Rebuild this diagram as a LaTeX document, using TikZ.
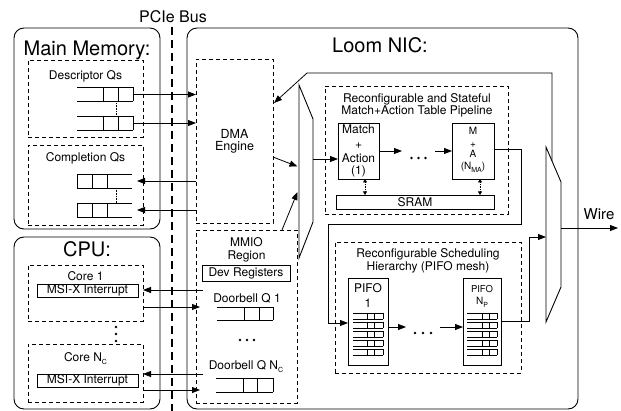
\documentclass[tikz,border=0pt]{standalone}
\usepackage{fontspec}
\setmainfont{TeX Gyre Heros}
\usetikzlibrary{arrows.meta,calc}
\newcommand{\fsz}[1]{\fontsize{#1}{#1}\selectfont}
\newcommand{\mysub}[1]{\raisebox{-3pt}{\fontsize{7}{7}\selectfont #1}}
\newcommand{\qdraw}[7]{\draw[ln] (#1,#3) -- (#2,#3) (#1,#4) -- (#2,#4) (#5,#3) -- (#5,#4) (#6,#3) -- (#6,#4) (#7,#3) -- (#7,#4);}
\begin{document}
\begin{tikzpicture}[x=1pt,y=-1pt,
  every node/.style={inner sep=0pt, outer sep=0pt, font=\fsz{12}},
  sbox/.style={draw, line width=0.8pt},
  dbox/.style={draw, line width=0.8pt, dash pattern=on 4pt off 3pt},
  rbox/.style={draw, line width=0.9pt, rounded corners=10pt},
  lab/.style={anchor=base},
  ln/.style={line width=0.8pt},
  thinln/.style={line width=0.6pt},
  arr/.style={line width=0.8pt, -{Triangle[length=8pt,width=6pt]}},
  darr/.style={line width=0.7pt, densely dotted, {Triangle[length=3.5pt,width=4pt]}-{Triangle[length=3.5pt,width=4pt]}},
  muxln/.style={line width=0.9pt},
]
\useasboundingbox (0,0) rectangle (621,411);

% PCIe bus
\node[lab, font=\fsz{16}] (pcielab) at (173,23) {PCIe Bus};
\coordinate (pcietop) at (172,27);
\coordinate (pciebot) at (172,411);
\draw[line width=2pt, dash pattern=on 8pt off 5pt] (pcietop) -- (pciebot);

% Main memory
\node[rbox, minimum width=146pt, minimum height=201pt] (mainmem) at (87,128.5) {};
\node[lab, font=\fsz{20}] (mmlab) at (87,56) {Main Memory:};
\node[dbox, minimum width=115pt, minimum height=77pt] (descq) at (85.5,98.5) {};
\node[lab] (desclab) at (85.5,80) {Descriptor Qs};
\qdraw{77}{133}{87.5}{101.5}{103}{118}{133}
\qdraw{77}{133}{116}{130}{103}{118}{133}
\draw[thinln, densely dotted] (116,101.5) -- (116,116);
\coordinate (dq1) at (133,94.5);
\coordinate (dq2) at (133,123);

\node[dbox, minimum width=115pt, minimum height=80pt] (complq) at (85.5,185) {};
\node[lab] (compllab) at (85.5,162) {Completion Qs};
\qdraw{77}{132}{174}{188}{77}{92}{107}
\qdraw{77}{132}{203}{217}{77}{92}{107}
\draw[thinln, densely dotted] (116,188) -- (116,203);
\coordinate (cq1) at (137,181);
\coordinate (cq2) at (137,210);

% CPU
\node[rbox, minimum width=146pt, minimum height=172pt] (cpu) at (87,323) {};
\node[lab, font=\fsz{20}] (cpulab) at (87,257) {CPU:};
\node[dbox, minimum width=115pt, minimum height=56pt] (core1) at (85.5,293) {};
\node[lab] (core1lab) at (85.5,281) {Core 1};
\node[sbox, minimum width=101pt, minimum height=13pt] (msi1) at (87.5,290.5) {MSI-X Interrupt};
\fill (116,327) circle (1.3pt) (116,334) circle (1.3pt) (116,341) circle (1.3pt);
\node[dbox, minimum width=115pt, minimum height=58pt] (coreN) at (85.5,373) {};
\node[lab] (coreNlab) at (85.5,362) {Core N\mysub{C}};
\node[sbox, minimum width=101pt, minimum height=13pt] (msiN) at (87.5,380.5) {MSI-X Interrupt};

% NIC
\node[rbox, minimum width=391pt, minimum height=381pt] (nic) at (382.5,218.5) {};
\node[lab, font=\fsz{20}] (niclab) at (380,53) {Loom NIC:};

\node[dbox, minimum width=77pt, minimum height=164pt] (dma) at (234.5,141) {};
\node[lab, font=\fsz{12.5}] (dmalab1) at (234.5,138.5) {DMA};
\node[lab, font=\fsz{12.5}] (dmalab2) at (234.5,151) {Engine};

\node[dbox, minimum width=101pt, minimum height=173pt] (mmio) at (246.5,316.5) {};
\node[lab] (mmiolab1) at (246.5,247) {MMIO};
\node[lab] (mmiolab2) at (246.5,260) {Region};
\node[sbox, minimum width=88pt, minimum height=16pt] (devreg) at (246,273) {Dev Registers};
\node[lab] (db1lab) at (247,303) {Doorbell Q 1};
\qdraw{217}{273}{307}{320}{244}{259}{273}
\fill (240,340) circle (1.3pt) (247,340) circle (1.3pt) (254,340) circle (1.3pt);
\node[lab] (dbNlab) at (246,370) {Doorbell Q N\mysub{C}};
\qdraw{216}{273}{378}{392}{243}{257}{273}

% memory <-> DMA
\draw[arr] (dq1) -- (dq1 -| dma.west);
\draw[arr] (dq2) -- (dq2 -| dma.west);
\draw[arr] (cq1 -| dma.west) -- (cq1);
\draw[arr] (cq2 -| dma.west) -- (cq2);

% CPU <-> MMIO
\coordinate (msi1src) at (203,290);
\coordinate (db1tgt) at (200,307);
\coordinate (msiNsrc) at (203,374);
\coordinate (dbNtgt) at (200,390);
\draw[arr] (msi1src) -- (msi1src -| core1.east);
\draw[arr] (db1tgt -| core1.east) -- (db1tgt);
\draw[arr] (msiNsrc) -- (msiNsrc -| coreN.east);
\draw[arr] (dbNtgt -| coreN.east) -- (dbNtgt);

% left mux
\draw[muxln] (299,85) -- (313,119) -- (313,222) -- (299,258) -- cycle;
\coordinate (dmao) at (273,157);
\coordinate (lmuxin1) at (297.5,166.5);
\coordinate (mmioo) at (282,230);
\coordinate (lmuxin2) at (297.5,192);
\coordinate (lmuxout) at (313,159);
\draw[arr] (dmao) -- (lmuxin1);
\draw[arr] (mmioo) -- (lmuxin2);

% pipeline
\node[dbox, minimum width=183pt, minimum height=128pt] (pipe) at (416.5,150) {};
\node[lab] (pipelab1) at (417,103) {Reconfigurable and Stateful};
\node[lab] (pipelab2) at (417,115) {Match+Action Table Pipeline};
\node[sbox, minimum width=41pt, minimum height=56pt] (match) at (358.5,151) {};
\node[lab] (ml1) at (358.5,134) {Match};
\node (ml2) at (358.5,146) {+};
\node[lab] (ml3) at (358.5,163) {Action};
\node[lab] (ml4) at (358.5,175) {(1)};
\node[sbox, minimum width=42pt, minimum height=56pt] (ma) at (473,151) {};
\node[lab, font=\fsz{10}] (mal1) at (473,135) {M};
\node[font=\fsz{10}] (mal2) at (473,145.5) {+};
\node[lab, font=\fsz{10}] (mal3) at (473,158) {A};
\node[lab, font=\fsz{10}] (mal4) at (473,170) {(N\mysub{MA})};
\node[sbox, minimum width=158pt, minimum height=14pt] (sram) at (415,202) {SRAM};
\coordinate (m1s) at (365,179);
\coordinate (m2s) at (480,179);
\draw[darr] (m1s) -- (m1s |- sram.north);
\draw[darr] (m2s) -- (m2s |- sram.north);
\node[minimum width=33pt] (pdots) at (418.5,151) {};
\fill (411.5,158) circle (1.3pt) (418.5,158) circle (1.3pt) (425.5,158) circle (1.3pt);
\draw[arr] (lmuxout) -- (lmuxout -| match.west);
\draw[arr] (match.east) -- (pdots.west);
\draw[arr] (pdots.east) -- (ma.west);

% scheduler
\node[dbox, minimum width=186pt, minimum height=131pt] (sched) at (428,307.5) {};
\node[lab] (schedlab1) at (428,258) {Reconfigurable Scheduling};
\node[lab] (schedlab2) at (428,271) {Hierarchy (PIFO mesh)};
\node[sbox, minimum width=40pt, minimum height=87pt] (pifo1) at (368,321.5) {};
\node[lab] (p1l1) at (368,293) {PIFO};
\node[lab] (p1l2) at (368,308) {1};
\node[sbox, minimum width=38pt, minimum height=87pt] (pifon) at (482,321.5) {};
\node[lab, font=\fsz{9.5}] (pnl1) at (482,293) {PIFO};
\node[lab, font=\fsz{10}] (pnl2) at (482,305) {N\mysub{P}};
\foreach \i in {0,...,4} {
  \draw[thinln] (353,313+9*\i) -- (383,313+9*\i) (353,319+9*\i) -- (383,319+9*\i)
     (367,313+9*\i) -- (367,319+9*\i) (374,313+9*\i) -- (374,319+9*\i) (383,313+9*\i) -- (383,319+9*\i);
  \draw[thinln] (467,313+9*\i) -- (497,313+9*\i) (467,319+9*\i) -- (497,319+9*\i)
     (482,313+9*\i) -- (482,319+9*\i) (489,313+9*\i) -- (489,319+9*\i) (497,313+9*\i) -- (497,319+9*\i);
}
\node[minimum width=34pt] (qdots) at (423,327) {};
\fill (415,333) circle (1.3pt) (423,333) circle (1.3pt) (431,333) circle (1.3pt);
\coordinate (pf1o) at (388,327);
\draw[arr] (pf1o) -- (qdots.west);
\draw[arr] (qdots.east) -- (qdots.east -| pifon.west);

% pipeline -> scheduler
\coordinate (maout) at (494,149);
\coordinate (pp1) at (521,149);
\coordinate (pp2) at (521,224);
\coordinate (pp3) at (328,224);
\coordinate (pp4) at (328,323);
\draw[arr] (maout) -- (pp1) -- (pp2) -- (pp3) -- (pp4) -- (pp4 -| pifo1.west);

% right mux
\draw[muxln] (546,147) -- (561,182) -- (561,287) -- (546,322) -- cycle;
\coordinate (pfno) at (501,321);
\coordinate (ss1) at (529,321);
\coordinate (rmuxin) at (546,237);
\draw[arr] (pfno) -- (ss1) |- (rmuxin);

% feedback to DMA
\coordinate (rmuxtop) at (552,161);
\coordinate (fb1) at (552,73);
\coordinate (fb2) at (307,73);
\coordinate (dmafb) at (274,103);
\draw[arr] (rmuxtop) -- (fb1) -- (fb2) -- (dmafb);

% wire
\coordinate (rmuxout) at (561,228);
\coordinate (wireend) at (618,228);
\draw[arr] (rmuxout) -- (wireend);
\node[lab, font=\fsz{15}] (wirelab) at (599,220) {Wire};
\end{tikzpicture}
\end{document}
